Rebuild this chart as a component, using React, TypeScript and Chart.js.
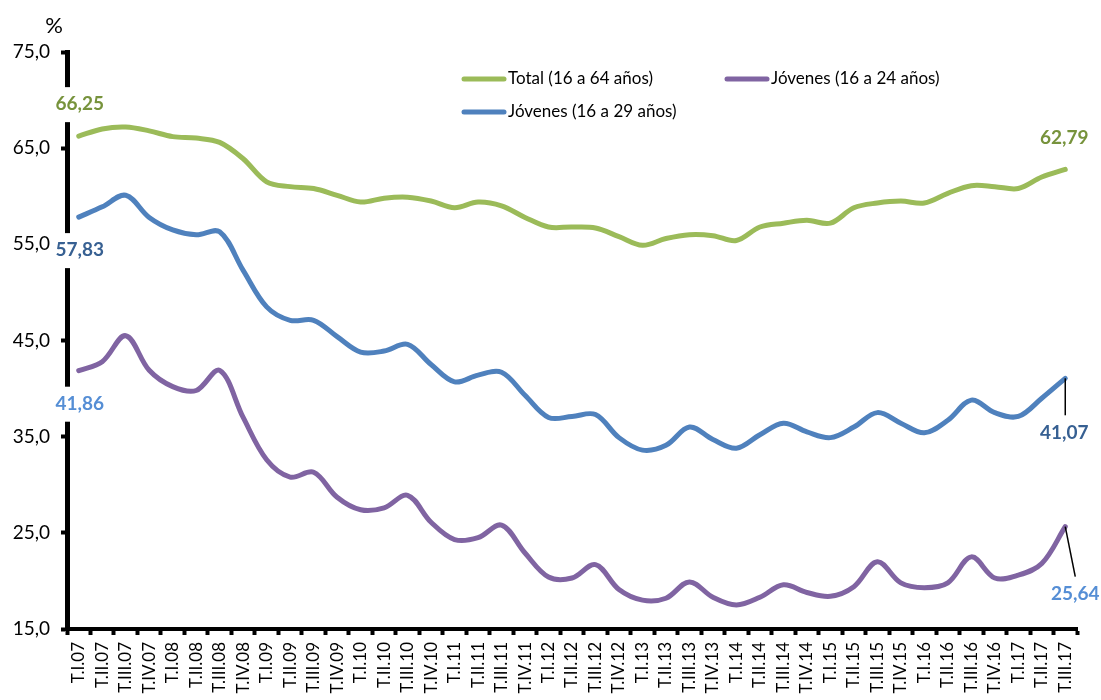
import { useEffect, useRef } from "react";
import { Chart, registerables } from "chart.js";

Chart.register(...registerables);

const categories = [
  "T.I.07", "T.II.07", "T.III.07", "T.IV.07",
  "T.I.08", "T.II.08", "T.III.08", "T.IV.08",
  "T.I.09", "T.II.09", "T.III.09", "T.IV.09",
  "T.I.10", "T.II.10", "T.III.10", "T.IV.10",
  "T.I.11", "T.II.11", "T.III.11", "T.IV.11",
  "T.I.12", "T.II.12", "T.III.12", "T.IV.12",
  "T.I.13", "T.II.13", "T.III.13", "T.IV.13",
  "T.I.14", "T.II.14", "T.III.14", "T.IV.14",
  "T.I.15", "T.II.15", "T.III.15", "T.IV.15",
  "T.I.16", "T.II.16", "T.III.16", "T.IV.16",
  "T.I.17", "T.II.17", "T.III.17",
];

const total16a64 = [
  66.25, 67.0, 67.2, 66.8, 66.2, 66.05, 65.6, 63.9, 61.5, 61.0, 60.8, 60.1,
  59.4, 59.8, 59.9, 59.5, 58.8, 59.4, 59.0, 57.8, 56.8, 56.8, 56.7, 55.8,
  54.9, 55.6, 56.0, 55.9, 55.4, 56.8, 57.2, 57.5, 57.2, 58.8, 59.3, 59.5,
  59.3, 60.3, 61.1, 61.0, 60.8, 62.0, 62.79,
];

const jovenes16a24 = [
  41.86, 42.8, 45.5, 41.9, 40.2, 39.8, 41.9, 37.0, 32.6, 30.8, 31.3, 28.7,
  27.4, 27.6, 28.9, 26.1, 24.3, 24.5, 25.8, 22.9, 20.4, 20.3, 21.7, 19.1,
  18.0, 18.2, 19.9, 18.3, 17.5, 18.3, 19.6, 18.8, 18.4, 19.4, 22.0, 19.8,
  19.3, 19.8, 22.5, 20.3, 20.6, 21.8, 25.64,
];

const jovenes16a29 = [
  57.83, 58.9, 60.1, 57.8, 56.5, 56.0, 56.3, 52.3, 48.5, 47.1, 47.1, 45.4,
  43.8, 43.9, 44.6, 42.5, 40.7, 41.4, 41.7, 39.3, 37.0, 37.1, 37.3, 34.9,
  33.6, 34.1, 36.0, 34.7, 33.8, 35.2, 36.4, 35.5, 34.9, 36.0, 37.5, 36.4,
  35.4, 36.7, 38.8, 37.5, 37.1, 39.0, 41.07,
];

const seriesNames = [
  "Total (16 a 64 años)",
  "Jóvenes (16 a 24 años)",
  "Jóvenes (16 a 29 años)",
];

const yTickValues = [15, 25, 35, 45, 55, 65, 75];

const FONT = "Lato, 'Open Sans', sans-serif";

const fmt = (v: number, d: number) => v.toFixed(d).replace(".", ",");

// Legend slots (style only)
const legendSlots = [
  { x: 464, y: 79 },
  { x: 727, y: 79 },
  { x: 464, y: 112 },
];

// End-point labels (style only): dataset index, point index, offsets, colour, leader line
const endLabels = [
  { ds: 0, pt: 0, dx: 1, dy: -32, color: "#77933C", lead: null as null | number[] },
  { ds: 0, pt: "last", dx: -1, dy: -32, color: "#77933C", lead: null as null | number[] },
  { ds: 2, pt: 0, dx: 1, dy: 33, color: "#376092", lead: null as null | number[] },
  { ds: 2, pt: "last", dx: -1, dy: 55, color: "#376092", lead: [0, 0, 0, 37] },
  { ds: 1, pt: 0, dx: 1, dy: 33, color: "#558ED5", lead: null as null | number[] },
  { ds: 1, pt: "last", dx: 10, dy: 67, color: "#558ED5", lead: [0, 0, 10, 50] },
];

const annotationPlugin = {
  id: "customAnnotations",
  afterDraw(chart: any) {
    const ctx = chart.ctx as CanvasRenderingContext2D;
    ctx.save();

    // "%" unit label
    ctx.fillStyle = "#000";
    ctx.font = `22px ${FONT}`;
    ctx.textAlign = "center";
    ctx.textBaseline = "middle";
    ctx.fillText("%", 54, 26);

    // legend
    chart.data.datasets.forEach((ds: any, i: number) => {
      const s = legendSlots[i];
      ctx.strokeStyle = ds.borderColor;
      ctx.lineWidth = 5;
      ctx.lineCap = "round";
      ctx.beginPath();
      ctx.moveTo(s.x, s.y);
      ctx.lineTo(s.x + 40, s.y);
      ctx.stroke();
      ctx.fillStyle = "#000";
      ctx.font = `17px ${FONT}`;
      ctx.textAlign = "left";
      ctx.textBaseline = "middle";
      ctx.fillText(ds.label, s.x + 44, s.y);
    });

    // end labels
    endLabels.forEach((l) => {
      const meta = chart.getDatasetMeta(l.ds);
      const idx = l.pt === "last" ? meta.data.length - 1 : (l.pt as number);
      const el = meta.data[idx];
      const value = chart.data.datasets[l.ds].data[idx] as number;
      const px = el.x;
      const py = el.y;
      if (l.lead) {
        ctx.strokeStyle = "#000";
        ctx.lineWidth = 1.5;
        ctx.lineCap = "butt";
        ctx.beginPath();
        ctx.moveTo(px + l.lead[0], py + l.lead[1]);
        ctx.lineTo(px + l.lead[2], py + l.lead[3]);
        ctx.stroke();
      }
      const text = fmt(value, 2);
      ctx.font = `bold 19px ${FONT}`;
      const w = ctx.measureText(text).width;
      const cx = px + l.dx;
      const cy = py + l.dy;
      if (l.pt === 0) {
        ctx.fillStyle = "#fff";
        ctx.fillRect(cx - w / 2 - 3, cy - 17, w + 6, 35);
      }
      ctx.fillStyle = l.color;
      ctx.textAlign = "center";
      ctx.textBaseline = "middle";
      ctx.fillText(text, cx, cy);
    });

    ctx.restore();
  },
};

export default function App() {
  const canvasRef = useRef<HTMLCanvasElement | null>(null);

  useEffect(() => {
    if (!canvasRef.current) return;
    const colors = ["#9BBB59", "#8064A2", "#4F81BD"];
    const data = [total16a64, jovenes16a24, jovenes16a29];
    const chart = new Chart(canvasRef.current, {
      type: "line",
      data: {
        labels: categories,
        datasets: data.map((d, i) => ({
          label: seriesNames[i],
          data: d,
          borderColor: colors[i],
          backgroundColor: colors[i],
          borderWidth: 5,
          pointRadius: 0,
          tension: 0.35,
          fill: false,
          borderCapStyle: "round" as const,
        })),
      },
      options: {
        animation: false,
        responsive: true,
        maintainAspectRatio: false,
        layout: { padding: { top: 52, right: 24, left: 0, bottom: 0 } },
        plugins: {
          legend: { display: false },
          tooltip: { enabled: false },
        },
        scales: {
          x: {
            type: "category",
            offset: true,
            grid: {
              offset: true,
              drawOnChartArea: false,
              drawTicks: true,
              tickLength: 6,
              tickWidth: 4,
              tickColor: "#000",
            },
            border: { display: true, color: "#000", width: 4 },
            ticks: {
              autoSkip: false,
              maxRotation: 90,
              minRotation: 90,
              padding: 7,
              color: "#000",
              font: { family: FONT, size: 17 },
            },
            afterFit: (scale: any) => {
              scale.height = 71;
            },
          },
          y: {
            min: 15,
            max: 75,
            afterBuildTicks: (scale: any) => {
              scale.ticks = yTickValues.map((v) => ({ value: v }));
            },
            grid: {
              drawOnChartArea: false,
              drawTicks: true,
              tickLength: 6,
              tickWidth: 4,
              tickColor: "#000",
            },
            border: { display: true, color: "#000", width: 5 },
            ticks: {
              padding: 11,
              color: "#000",
              font: { family: FONT, size: 19 },
              callback: (v: any) => fmt(Number(v), 1),
            },
            afterFit: (scale: any) => {
              scale.width = 67;
            },
          },
        },
      },
      plugins: [annotationPlugin],
    });
    return () => chart.destroy();
  }, []);

  return (
    <div
      style={{
        position: "fixed",
        left: 0,
        top: 0,
        width: 1101,
        height: 700,
        background: "#fff",
      }}
    >
      <canvas ref={canvasRef} />
    </div>
  );
}
